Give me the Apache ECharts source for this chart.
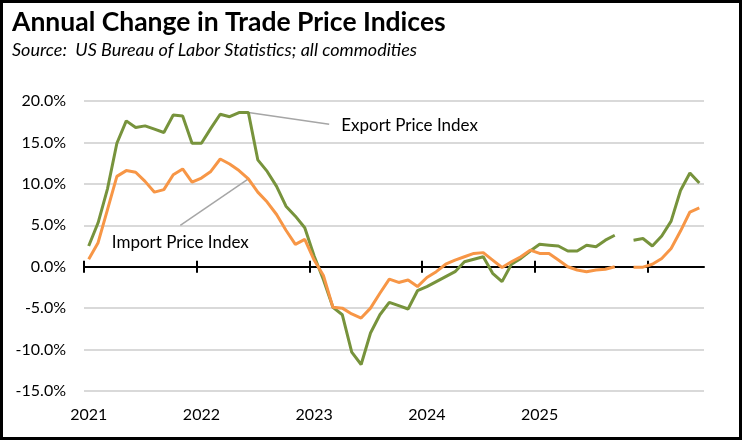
<!DOCTYPE html>
<html>
<head>
<meta charset="utf-8">
<script src="https://cdn.jsdelivr.net/npm/echarts@6/dist/echarts.min.js"></script>
<style>
  html, body { margin: 0; padding: 0; background: #fff; }
  #chart { width: 742px; height: 441px; }
</style>
</head>
<body>
<div id="chart"></div>
<script>
// monthly categories, Jan 2021 .. Jun 2026
const years = ['2021', '2022', '2023', '2024', '2025', '2026'];
const months = ['Jan','Feb','Mar','Apr','May','Jun','Jul','Aug','Sep','Oct','Nov','Dec'];
const categories = [];
years.forEach(y => months.forEach(m => categories.push(m + ' ' + y)));
categories.length = 66;
// month boundaries (one more than months), used only for the tick marks
const boundaries = categories.concat(['end']);

// one label per year, 2026 left blank as in the source
const yearLabels = ['2021', '2022', '2023', '2024', '2025', ''];

// annual % change; null = month not published
const exportIdx = [
  2.5, 5.3, 9.4, 14.9, 17.6, 16.8, 17.0, 16.6, 16.2, 18.3, 18.2, 14.9,
  14.9, 16.7, 18.4, 18.1, 18.6, 18.6, 12.9, 11.5, 9.7, 7.3, 6.1, 4.7,
  1.3, -1.6, -4.9, -5.8, -10.3, -11.8, -8.0, -5.8, -4.3, -4.7, -5.1, -2.9,
  -2.4, -1.8, -1.2, -0.6, 0.6, 0.9, 1.2, -0.8, -1.8, 0.3, 1.0, 1.9,
  2.7, 2.6, 2.5, 1.9, 1.9, 2.6, 2.4, 3.2, 3.8, null, 3.2, 3.4,
  2.5, 3.7, 5.5, 9.2, 11.3, 10.1
];
const importIdx = [
  0.9, 2.9, 6.9, 10.9, 11.6, 11.4, 10.3, 9.0, 9.3, 11.1, 11.8, 10.2,
  10.7, 11.5, 13.0, 12.4, 11.6, 10.6, 9.0, 7.8, 6.3, 4.4, 2.7, 3.3,
  0.8, -1.1, -4.9, -5.0, -5.7, -6.2, -5.0, -3.2, -1.5, -1.9, -1.6, -2.4,
  -1.3, -0.6, 0.3, 0.8, 1.2, 1.6, 1.7, 0.8, -0.1, 0.6, 1.2, 2.0,
  1.6, 1.6, 0.8, 0.0, -0.4, -0.6, -0.4, -0.3, 0.0, null, -0.05, -0.05,
  0.3, 1.0, 2.2, 4.3, 6.6, 7.1
];

const FONT = 'Lato, "Open Sans", sans-serif';
const chart = echarts.init(document.getElementById('chart'));

chart.setOption({
  animation: false,
  backgroundColor: '#fff',
  title: {
    text: 'Annual Change in Trade Price Indices',
    subtext: 'Source:  US Bureau of Labor Statistics; all commodities',
    left: 7, top: 4, itemGap: 5,
    textStyle: { fontFamily: FONT, fontSize: 26.5, fontWeight: 'bold', color: '#000' },
    subtextStyle: { fontFamily: FONT, fontSize: 18, fontStyle: 'italic', color: '#000' }
  },
  grid: { left: 84, right: 38, top: 101, bottom: 50 },
  xAxis: [
    { // year labels along the bottom
      type: 'category', data: categories, boundaryGap: true, position: 'bottom',
      axisLine: { show: false, onZero: false }, axisTick: { show: false },
      axisLabel: {
        interval: 11, margin: 16, color: '#000', fontFamily: FONT, fontSize: 16,
        formatter: (v, i) => yearLabels[i / 12] || ''
      }
    },
    { // zero line, ticks below it
      type: 'category', data: boundaries, boundaryGap: false, position: 'bottom',
      axisLine: { show: true, onZero: true, onZeroAxisIndex: 0, lineStyle: { color: '#000', width: 2 } },
      axisTick: { show: true, interval: 11, length: 6, lineStyle: { color: '#000', width: 2 } },
      axisLabel: { show: false }
    },
    { // ticks above the zero line
      type: 'category', data: boundaries, boundaryGap: false, position: 'bottom',
      axisLine: { show: false, onZero: true, onZeroAxisIndex: 0 },
      axisTick: { show: true, inside: true, interval: 11, length: 6, lineStyle: { color: '#000', width: 2 } },
      axisLabel: { show: false }
    }
  ],
  yAxis: {
    type: 'value', min: -15, max: 20, interval: 5,
    axisLine: { show: false }, axisTick: { show: false },
    splitLine: { lineStyle: { color: '#D9D9D9', width: 2 } },
    axisLabel: {
      margin: 18, color: '#000', fontFamily: FONT, fontSize: 16,
      formatter: v => v.toFixed(1) + '%'
    }
  },
  series: [
    { name: 'Export Price Index', type: 'line', data: exportIdx, showSymbol: false,
      lineStyle: { color: '#77933C', width: 3 }, itemStyle: { color: '#77933C' } },
    { name: 'Import Price Index', type: 'line', data: importIdx, showSymbol: false,
      lineStyle: { color: '#F79646', width: 3 }, itemStyle: { color: '#F79646' } }
  ]
});

// data -> pixel, allowing a fractional category position
function px(i, v) {
  const a = chart.convertToPixel({ seriesIndex: 0 }, [Math.floor(i), v]);
  const b = chart.convertToPixel({ seriesIndex: 0 }, [Math.floor(i) + 1, v]);
  const f = i - Math.floor(i);
  return [a[0] + (b[0] - a[0]) * f, a[1]];
}

const exStart = px(17, exportIdx[17]);
const exEnd = px(25.6, 17.2);
const imStart = px(17, importIdx[17]);
const imEnd = px(9.75, 5.0);
const labelStyle = { fontFamily: FONT, fontSize: 17, fill: '#000' };

chart.setOption({
  graphic: [
    { type: 'rect', shape: { x: 1.5, y: 1.5, width: 739, height: 437 },
      style: { fill: 'none', stroke: '#000', lineWidth: 3 }, silent: true },
    { type: 'line', shape: { x1: exStart[0], y1: exStart[1], x2: exEnd[0], y2: exEnd[1] },
      style: { stroke: '#A6A6A6', lineWidth: 1.5 }, z: 1 },
    { type: 'text', x: exEnd[0] + 12, y: exEnd[1] + 1,
      style: Object.assign({ text: 'Export Price Index', align: 'left', verticalAlign: 'middle' }, labelStyle) },
    { type: 'line', shape: { x1: imStart[0], y1: imStart[1], x2: imEnd[0], y2: imEnd[1] },
      style: { stroke: '#A6A6A6', lineWidth: 1.5 }, z: 1 },
    { type: 'text', x: imEnd[0], y: imEnd[1] + 17,
      style: Object.assign({ text: 'Import Price Index', align: 'center', verticalAlign: 'middle' }, labelStyle) }
  ]
});
</script>
</body>
</html>
